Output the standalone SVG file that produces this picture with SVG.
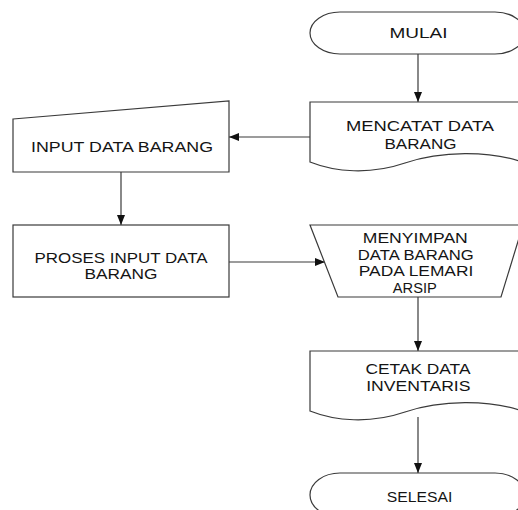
<svg xmlns="http://www.w3.org/2000/svg" width="518" height="510" viewBox="0 0 518 510">
  <defs>
    <style>
      .shape { fill: #ffffff; stroke: #3a3a3a; stroke-width: 1.2; }
      .link { fill: none; stroke: #3a3a3a; stroke-width: 1.2; }
      .label { font-family: "Liberation Sans", Arial, sans-serif; font-size: 14px; fill: #141414; }
    </style>
    <marker id="arrow" viewBox="0 0 10 8" refX="10" refY="4" markerWidth="10" markerHeight="8" markerUnits="userSpaceOnUse" orient="auto">
      <path d="M0,0 L10,4 L0,8 Z" fill="#111111"/>
    </marker>
    <!-- document symbol with wavy bottom edge -->
    <path id="doc" d="M310,102 H525 V163 C490,150 440,151 405,163 C370,175 335,172 310,162 Z"/>
  </defs>

  <rect width="518" height="510" fill="#ffffff"/>

  <!-- connectors -->
  <g id="connectors">
    <line class="link" x1="418" y1="54" x2="418" y2="102" marker-end="url(#arrow)"/>
    <line class="link" x1="310" y1="137" x2="229" y2="137" marker-end="url(#arrow)"/>
    <line class="link" x1="121" y1="172" x2="121" y2="225" marker-end="url(#arrow)"/>
    <line class="link" x1="229" y1="262" x2="325" y2="262" marker-end="url(#arrow)"/>
    <line class="link" x1="418" y1="297" x2="418" y2="351" marker-end="url(#arrow)"/>
    <line class="link" x1="418" y1="417" x2="418" y2="473" marker-end="url(#arrow)"/>
  </g>

  <!-- start terminal -->
  <g id="mulai">
    <rect class="shape" x="310" y="12" width="215" height="42" rx="30" ry="21"/>
    <text class="label" x="389.5" y="38.3" textLength="58" lengthAdjust="spacingAndGlyphs">MULAI</text>
  </g>

  <!-- document: record item data -->
  <g id="mencatat">
    <use href="#doc" class="shape"/>
    <text class="label" x="346" y="131" textLength="148" lengthAdjust="spacingAndGlyphs">MENCATAT DATA</text>
    <text class="label" x="384.5" y="148.7" textLength="72" lengthAdjust="spacingAndGlyphs">BARANG</text>
  </g>

  <!-- manual input -->
  <g id="input">
    <polygon class="shape" points="13,119 229,101 229,172 13,172"/>
    <text class="label" x="31" y="151.7" textLength="182" lengthAdjust="spacingAndGlyphs">INPUT DATA BARANG</text>
  </g>

  <!-- process -->
  <g id="proses">
    <rect class="shape" x="13" y="225" width="216" height="72"/>
    <text class="label" x="34.5" y="262.5" textLength="173" lengthAdjust="spacingAndGlyphs">PROSES INPUT DATA</text>
    <text class="label" x="84.5" y="279" textLength="73" lengthAdjust="spacingAndGlyphs">BARANG</text>
  </g>

  <!-- manual operation: archive storage -->
  <g id="menyimpan">
    <polygon class="shape" points="310,225 523,225 501,297 338,297"/>
    <text class="label" x="362.8" y="243.3" textLength="105" lengthAdjust="spacingAndGlyphs">MENYIMPAN</text>
    <text class="label" x="357.8" y="259.8" textLength="116" lengthAdjust="spacingAndGlyphs">DATA BARANG</text>
    <text class="label" x="358.8" y="276.3" textLength="114.5" lengthAdjust="spacingAndGlyphs">PADA LEMARI</text>
    <text class="label" x="392.8" y="292.8" textLength="44" lengthAdjust="spacingAndGlyphs">ARSIP</text>
  </g>

  <!-- document: print inventory -->
  <g id="cetak">
    <use href="#doc" class="shape" transform="translate(0,249)"/>
    <text class="label" x="365.5" y="374" textLength="105" lengthAdjust="spacingAndGlyphs">CETAK DATA</text>
    <text class="label" x="366.2" y="390.5" textLength="104.3" lengthAdjust="spacingAndGlyphs">INVENTARIS</text>
  </g>

  <!-- end terminal -->
  <g id="selesai">
    <rect class="shape" x="310" y="473" width="215" height="44" rx="30" ry="22"/>
    <text class="label" x="386.8" y="501.7" textLength="65.5" lengthAdjust="spacingAndGlyphs">SELESAI</text>
  </g>
</svg>
